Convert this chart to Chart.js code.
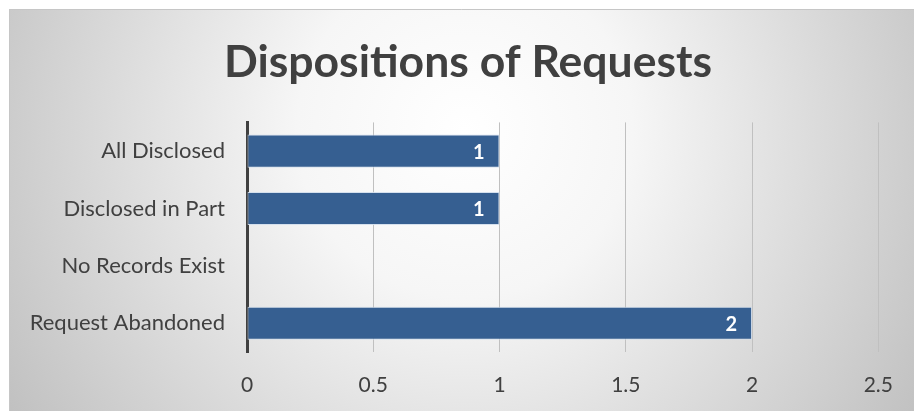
<!DOCTYPE html>
<html>
<head>
<meta charset="utf-8">
<script src="https://cdn.jsdelivr.net/npm/chart.js@4.4.1/dist/chart.umd.min.js"></script>
<style>
  html, body { margin: 0; padding: 0; background: #ffffff; }
  #wrap { width: 914px; height: 411px; position: relative; }
</style>
</head>
<body>
<div id="wrap"><canvas id="c" width="914" height="411"></canvas></div>
<script>
const categories = ["All Disclosed", "Disclosed in Part", "No Records Exist", "Request Abandoned"];
const requestCounts = [1, 1, 0, 2];
const xTicks = [0, 0.5, 1, 1.5, 2, 2.5];

const FONT = "Lato, 'Open Sans', 'DejaVu Sans', sans-serif";

const backgroundPlugin = {
  id: 'bgFrame',
  afterLayout(chart) {
    if (chart.titleBlock) { chart.titleBlock.left += 45; }
  },
  beforeDraw(chart) {
    const ctx = chart.ctx;
    const w = chart.width, h = chart.height;
    ctx.save();
    ctx.fillStyle = '#ffffff';
    ctx.fillRect(0, 0, w, h);
    const x0 = 9, y0 = 9, x1 = w, y1 = h;
    const g = ctx.createRadialGradient(465, 130, 0, 465, 130, 560);
    g.addColorStop(0, '#ffffff');
    g.addColorStop(0.3, '#f6f6f6');
    g.addColorStop(1, '#bdbdbd');
    ctx.fillStyle = g;
    ctx.fillRect(x0, y0, x1 - x0, y1 - y0);
    ctx.strokeStyle = '#c6c6c6';
    ctx.lineWidth = 1;
    ctx.beginPath();
    ctx.moveTo(x0 + 0.5, y1);
    ctx.lineTo(x0 + 0.5, y0 + 0.5);
    ctx.lineTo(x1, y0 + 0.5);
    ctx.stroke();
    ctx.restore();
  }
};

const valueLabelPlugin = {
  id: 'valueLabels',
  afterDatasetsDraw(chart) {
    const ctx = chart.ctx;
    const meta = chart.getDatasetMeta(0);
    const data = chart.data.datasets[0].data;
    ctx.save();
    ctx.fillStyle = '#ffffff';
    ctx.font = "bold 20px " + FONT;
    ctx.textAlign = 'right';
    ctx.textBaseline = 'middle';
    meta.data.forEach((bar, i) => {
      const v = data[i];
      if (!v) return;
      ctx.fillText(String(v), bar.x - 15, bar.y + 1);
    });
    ctx.restore();
  }
};

new Chart(document.getElementById('c'), {
  type: 'bar',
  data: {
    labels: categories,
    datasets: [{
      data: requestCounts,
      backgroundColor: '#365F91',
      borderColor: 'rgba(210,222,236,0.9)',
      borderWidth: 1,
      borderSkipped: false,
      barPercentage: 0.6,
      categoryPercentage: 0.96
    }]
  },
  options: {
    indexAxis: 'y',
    responsive: false,
    animation: false,
    devicePixelRatio: 1,
    layout: { padding: { left: 10, right: 33, top: 0, bottom: 10 } },
    plugins: {
      legend: { display: false },
      tooltip: { enabled: false },
      title: {
        display: true,
        text: 'Dispositions of Requests',
        color: '#404040',
        font: { family: FONT, size: 44.5, weight: 'bold' },
        padding: { top: 36, bottom: 33 }
      }
    },
    scales: {
      x: {
        min: 0,
        max: 2.5,
        afterBuildTicks(scale) { scale.ticks = xTicks.map(v => ({ value: v })); },
        afterFit(scale) { scale.height = 49; },
        grid: { color: '#c0c0c0', lineWidth: 1, drawTicks: false },
        border: { display: false },
        ticks: {
          color: '#404040',
          font: { family: FONT, size: 21 },
          padding: 21,
          callback: (v) => String(v)
        }
      },
      y: {
        afterFit(scale) { scale.width = 237; },
        grid: { display: false },
        border: { display: true, color: '#404040', width: 3 },
        ticks: {
          color: '#404040',
          font: { family: FONT, size: 22 },
          padding: 14
        }
      }
    }
  },
  plugins: [backgroundPlugin, valueLabelPlugin]
});
</script>
</body>
</html>
